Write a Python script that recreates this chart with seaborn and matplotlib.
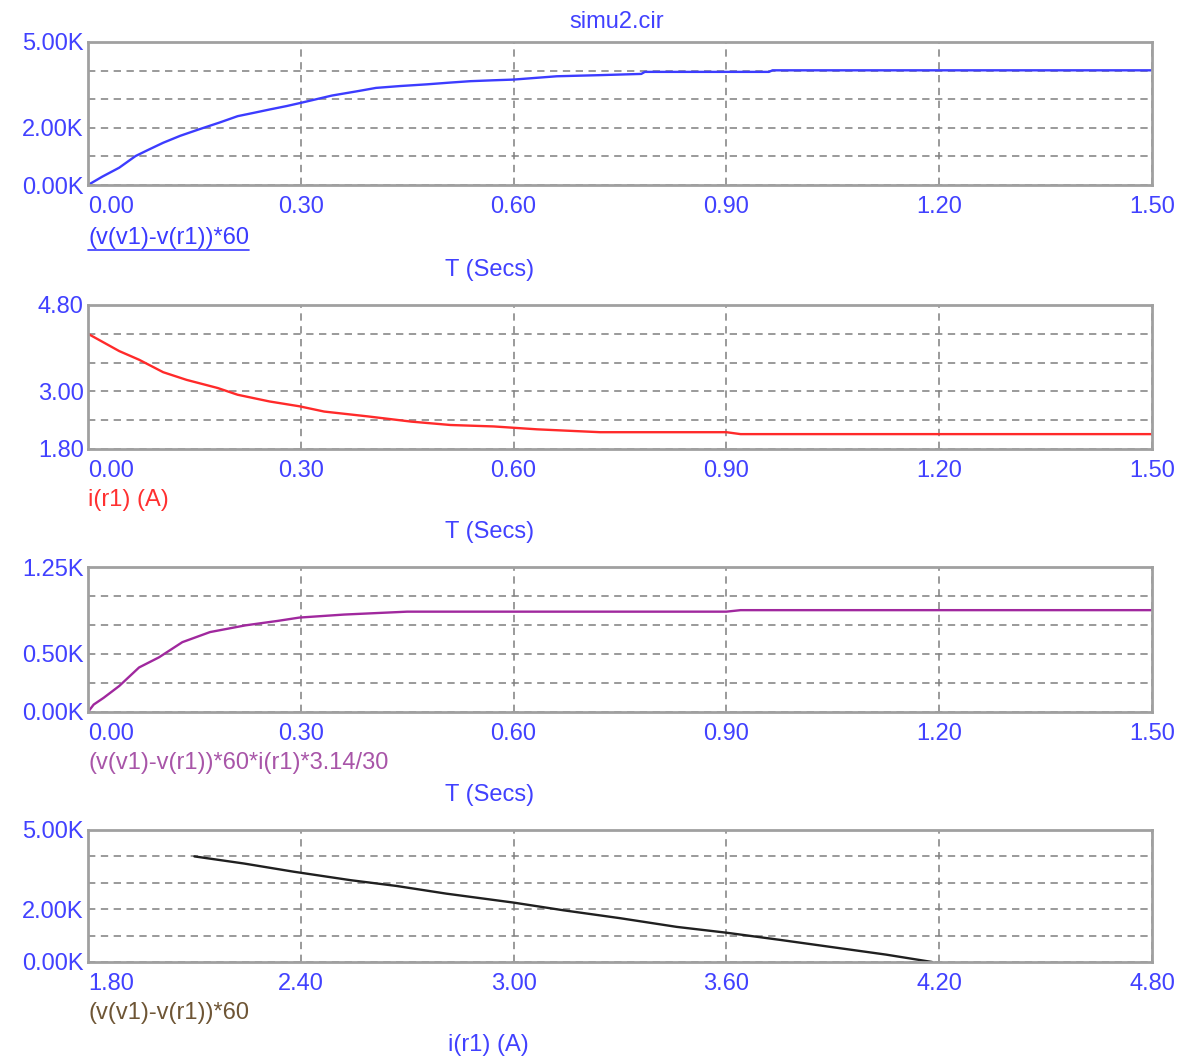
import numpy as np
import pandas as pd
import matplotlib
matplotlib.use("Agg")
import matplotlib.pyplot as plt
import seaborn as sns
from matplotlib.lines import Line2D

# ---------------- data ----------------
t_speed = [0, 0.02, 0.044, 0.067, 0.085, 0.106, 0.13, 0.156, 0.185, 0.211, 0.235,
           0.256, 0.28, 0.3, 0.344, 0.38, 0.406, 0.44, 0.478, 0.51, 0.539, 0.57,
           0.6, 0.661, 0.72, 0.78, 0.785, 0.96, 0.965, 1.5]
speed = [0, 290, 605, 1012, 1230, 1477, 1720, 1942, 2180, 2407, 2530,
         2640, 2760, 2872, 3128, 3280, 3395, 3460, 3520, 3580, 3630, 3660,
         3686, 3802, 3840, 3884, 3955, 3955, 4010, 4010]

t_current = [0, 0.044, 0.072, 0.106, 0.139, 0.183, 0.211, 0.256, 0.298, 0.333,
             0.394, 0.456, 0.511, 0.572, 0.633, 0.722, 0.90, 0.92, 1.5]
current = [4.2, 3.84, 3.66, 3.40, 3.24, 3.07, 2.93, 2.79, 2.69, 2.58,
           2.48, 2.37, 2.30, 2.27, 2.21, 2.15, 2.15, 2.11, 2.11]

t_power = [0, 0.008, 0.022, 0.044, 0.072, 0.1, 0.133, 0.172, 0.222, 0.267,
           0.298, 0.361, 0.45, 0.90, 0.92, 1.5]
power = [0, 64, 122, 224, 384, 471, 602, 689, 747, 785,
         814, 840, 865, 865, 878, 878]

current_xy = [2.10, 2.24, 2.38, 2.54, 2.67, 2.81, 3.00, 3.14, 3.30, 3.46,
              3.60, 3.75, 3.90, 4.05, 4.18]
speed_xy = [4000, 3730, 3420, 3100, 2880, 2590, 2250, 1960, 1660, 1330,
            1110, 840, 560, 280, 0]

time_ticks = [0.0, 0.3, 0.6, 0.9, 1.2, 1.5]
time_ticklabels = ["0.00", "0.30", "0.60", "0.90", "1.20", "1.50"]
cur_ticks = [1.8, 2.4, 3.0, 3.6, 4.2, 4.8]
cur_ticklabels = ["1.80", "2.40", "3.00", "3.60", "4.20", "4.80"]

title = "simu2.cir"
xlabel_t = "T (Secs)"
xlabel_i = "i(r1) (A)"
trace_labels = ["(v(v1)-v(r1))*60", "i(r1) (A)",
                "(v(v1)-v(r1))*60*i(r1)*3.14/30", "(v(v1)-v(r1))*60"]

# ---------------- style ----------------
sns.set_theme(style="white")
plt.rcParams["font.family"] = ["Liberation Sans", "DejaVu Sans"]

W, H = 1182, 1057
fig = plt.figure(figsize=(W / 100, H / 100), dpi=100)
fig.patch.set_facecolor("white")

TICK_BLUE = "#4141ff"
FS = 17


def rect(left, top, right, bottom):
    return [left / W, 1 - bottom / H, (right - left) / W, (bottom - top) / H]


def style_axis(ax, xlim, xticks, xticklabels, ylim, yticks, yticklabels):
    ax.set_xlim(*xlim)
    ax.set_ylim(*ylim)
    ax.set_xticks(xticks)
    ax.set_xticklabels(xticklabels)
    ax.set_yticks(yticks)
    ax.set_yticklabels(yticklabels)
    ax.tick_params(axis="both", length=0, labelsize=FS, labelcolor=TICK_BLUE)
    ax.tick_params(axis="x", pad=8)
    ax.tick_params(axis="y", pad=3)
    ax.xaxis.get_majorticklabels()[0].set_horizontalalignment("left")
    ax.set_axisbelow(True)
    ax.grid(True, color="#7f7f7f", linewidth=1.1, linestyle=(0, (4.8, 3.6)))
    for s in ax.spines.values():
        s.set_color("#a0a0a0")
        s.set_linewidth(2.0)
        s.set_visible(True)
    ax.set_xlabel("")
    ax.set_ylabel("")
    ax.set_facecolor("white")


def ylabels(ticks, labelled, fmt):
    return [fmt(v) if v in labelled else "" for v in ticks]


kfmt = lambda v: f"{v/1000:.2f}K"

# Panel 1
ax1 = fig.add_axes(rect(88, 42, 1152, 185))
sns.lineplot(x=t_speed, y=speed, ax=ax1, color="#3c3cff", linewidth=1.7,
             estimator=None, sort=False)
yt1 = [0, 1000, 2000, 3000, 4000, 5000]
style_axis(ax1, (0, 1.5), time_ticks, time_ticklabels, (0, 5000), yt1,
           ylabels(yt1, [0, 2000, 5000], kfmt))

# Panel 2
ax2 = fig.add_axes(rect(88, 305, 1152, 449))
sns.lineplot(x=t_current, y=current, ax=ax2, color="#ff2a2a", linewidth=1.7,
             estimator=None, sort=False)
style_axis(ax2, (0, 1.5), time_ticks, time_ticklabels, (1.8, 4.8), cur_ticks,
           ["1.80", "", "3.00", "", "", "4.80"])

# Panel 3
ax3 = fig.add_axes(rect(88, 567, 1152, 712))
sns.lineplot(x=t_power, y=power, ax=ax3, color="#a0289e", linewidth=1.7,
             estimator=None, sort=False)
yt3 = [0, 250, 500, 750, 1000, 1250]
style_axis(ax3, (0, 1.5), time_ticks, time_ticklabels, (0, 1250), yt3,
           ylabels(yt3, [0, 500, 1250], kfmt))

# Panel 4
ax4 = fig.add_axes(rect(88, 830, 1152, 962))
sns.lineplot(x=current_xy, y=speed_xy, ax=ax4, color="#202020", linewidth=1.7,
             estimator=None, sort=False)
yt4 = [0, 1000, 2000, 3000, 4000, 5000]
style_axis(ax4, (1.8, 4.8), cur_ticks, cur_ticklabels, (0, 5000), yt4,
           ylabels(yt4, [0, 2000, 5000], kfmt))


def fy(y):
    return 1 - y / H


# Title
fig.text(617 / W, fy(22), title, ha="center", va="center", fontsize=FS,
         color=TICK_BLUE)

# trace labels
label_colors = ["#3a3aff", "#ff3030", "#a855a8", "#6e5535"]
label_y = [238, 500, 763, 1013]
texts = []
for lab, col, y in zip(trace_labels, label_colors, label_y):
    texts.append(fig.text(88 / W, fy(y), lab, ha="left", va="center",
                          fontsize=FS, color=col))

# axis titles
for y in [270, 532, 795]:
    fig.text(490 / W, fy(y), xlabel_t, ha="center", va="center",
             fontsize=FS, color=TICK_BLUE)
fig.text(488 / W, fy(1045), xlabel_i, ha="center", va="center",
         fontsize=FS, color=TICK_BLUE)

# underline first trace label
fig.canvas.draw()
bb = texts[0].get_window_extent(renderer=fig.canvas.get_renderer())
uy = (bb.y0 - 1) / H
fig.add_artist(Line2D([bb.x0 / W, bb.x1 / W], [uy, uy], color="#3a3aff",
                      linewidth=1.2, transform=fig.transFigure))

fig.savefig("out.png", dpi=100, facecolor="white")
